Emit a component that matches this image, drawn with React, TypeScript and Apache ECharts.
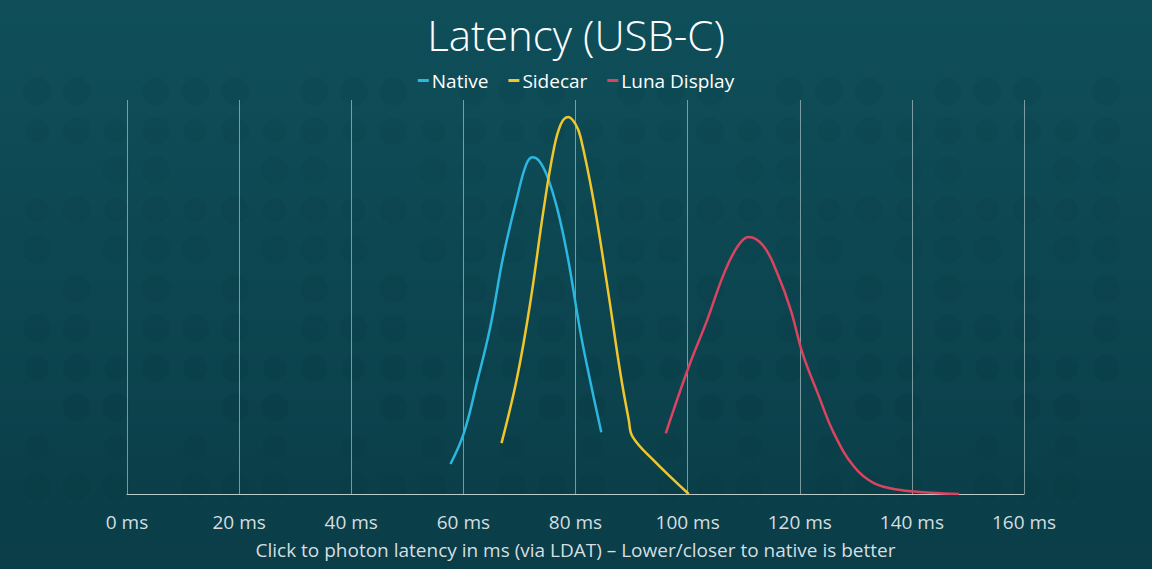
import React, { useEffect, useRef } from "react";
import * as echarts from "echarts";

const legendNames = ["Native", "Sidecar", "Luna Display"];
const xTicks = [0, 20, 40, 60, 80, 100, 120, 140, 160];

const nativeData: [number, number][] = [
  [57.7, 7.6], [60.1, 15.5], [62.4, 28.2], [64.8, 42.4], [67.1, 60.2], [69.6, 75.4],
  [71.2, 83.6], [72.3, 85.5], [73.5, 84.6], [75.0, 80.5], [76.8, 72.1], [78.6, 60.2],
  [80.9, 40.9], [82.7, 28.2], [84.6, 15.7],
];
const sidecarData: [number, number][] = [
  [66.8, 12.9], [69.6, 29.7], [72.0, 49.2], [74.3, 72.1], [76.1, 87.3], [77.4, 93.9],
  [78.7, 95.7], [80.0, 93.9], [80.9, 90.6], [83.2, 74.6], [85.7, 52.5], [88.0, 30.7],
  [89.5, 18.8], [90.2, 14.5], [93.9, 8.6], [100.2, 0],
];
const lunaData: [number, number][] = [
  [96.1, 15.4], [100.2, 32.3], [103.5, 44.2], [106.5, 56.0], [108.9, 62.8], [110.9, 65.2],
  [113.6, 62.8], [116.0, 56.0], [118.4, 46.7], [120.5, 35.7], [123.2, 25.6], [126.1, 15.4],
  [129.7, 6.9], [133.3, 2.7], [138.0, 1.0], [143.4, 0.3], [148.4, 0],
];

const colors = ["#2bb7e0", "#f2c62b", "#dc4360"];

export default function App() {
  const ref = useRef<HTMLDivElement>(null);
  useEffect(() => {
    if (!ref.current) return;
    const chart = echarts.init(ref.current, undefined, { renderer: "svg" });
    const deco: any[] = [];
    for (let r = 0; r < 13; r++) {
      for (let c = 0; c < 28; c++) {
        const k = (r * 7 + c * 3 + ((r * c) % 4)) % 6;
        if (k === 0 || k === 3) continue;
        deco.push({
          type: "circle",
          silent: true,
          z: -10,
          shape: { cx: 37 + c * 39.6, cy: 52 + r * 39.5, r: 12 + (k % 2) * 2 },
          style: { fill: "rgba(0,0,0,0.03)" },
        });
      }
    }
    const font = "'Open Sans', Lato, sans-serif";
    chart.setOption({
      animation: false,
      backgroundColor: {
        type: "linear", x: 0, y: 0, x2: 0, y2: 1,
        colorStops: [
          { offset: 0, color: "#0f4f5a" },
          { offset: 1, color: "#0a3d47" },
        ],
      },
      graphic: deco,
      title: {
        text: "Latency (USB-C)",
        left: "center",
        top: 8,
        textStyle: { color: "#ffffff", fontSize: 42, fontWeight: 300, fontFamily: font },
      },
      legend: {
        data: legendNames,
        top: 66,
        left: "center",
        icon: "rect",
        itemWidth: 11,
        itemHeight: 3,
        itemGap: 20,
        textStyle: { color: "#ffffff", fontSize: 19, fontFamily: font, padding: [0, 0, 0, -2] },
      },
      grid: { left: 127, right: 128, top: 100, bottom: 75 },
      xAxis: {
        type: "value",
        min: 0,
        max: 160,
        interval: 20,
        name: "Click to photon latency in ms (via LDAT) – Lower/closer to native is better",
        nameLocation: "middle",
        nameGap: 46,
        nameTextStyle: { color: "#d4dfe1", fontSize: 19, fontFamily: font },
        axisLine: { show: true, lineStyle: { color: "#b9c9cc", width: 1 } },
        axisTick: { show: false },
        axisLabel: {
          color: "#d4dfe1",
          fontSize: 19,
          fontFamily: font,
          margin: 18,
          formatter: (v: number) => (xTicks.includes(v) ? `${v} ms` : ""),
        },
        splitLine: { show: true, lineStyle: { color: "rgba(210,225,228,0.55)", width: 1 } },
      },
      yAxis: {
        type: "value",
        min: 0,
        max: 100,
        show: false,
        splitLine: { show: false },
      },
      series: [
        { name: legendNames[0], data: nativeData, color: colors[0] },
        { name: legendNames[1], data: sidecarData, color: colors[1] },
        { name: legendNames[2], data: lunaData, color: colors[2] },
      ].map((s) => ({
        ...s,
        type: "line",
        smooth: 0.4,
        showSymbol: false,
        lineStyle: { width: 2.5, color: s.color },
      })),
    });
    return () => chart.dispose();
  }, []);
  return (
    <div
      ref={ref}
      style={{ position: "fixed", left: 0, top: 0, width: 1152, height: 569 }}
    />
  );
}
